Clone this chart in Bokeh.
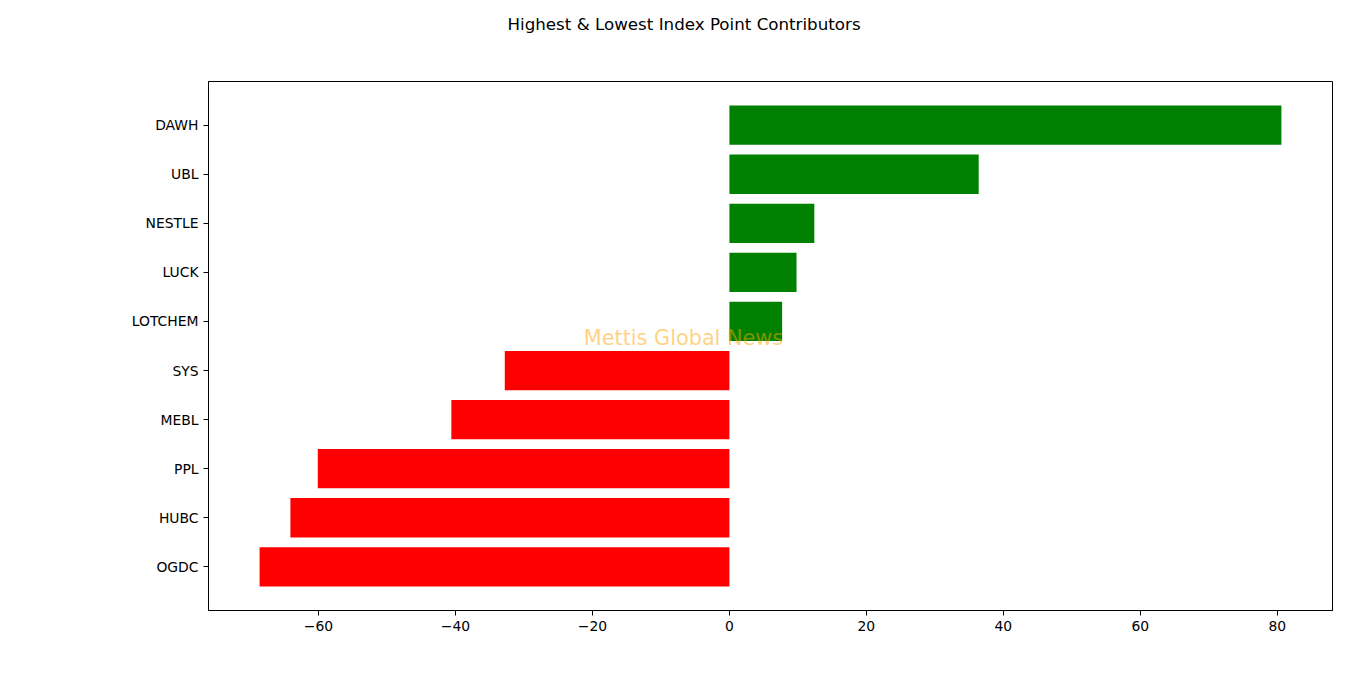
from bokeh.plotting import figure
from bokeh.models import FixedTicker, Label, ColumnDataSource, Title
from bokeh.embed import file_html
from bokeh.resources import INLINE

# Data (bottom to top)
names = ["OGDC", "HUBC", "PPL", "MEBL", "SYS", "LOTCHEM", "LUCK", "NESTLE", "UBL", "DAWH"]
values = [-68.6, -64.1, -60.1, -40.6, -32.8, 7.7, 9.8, 12.4, 36.4, 80.6]
x_ticks = [-60, -40, -20, 0, 20, 40, 60, 80]
title_text = "Highest & Lowest Index Point Contributors"
watermark_text = "Mettis Global News"

FONT = "DejaVu Sans"

idx = list(range(len(names)))
colors = ["#008000" if v >= 0 else "#ff0000" for v in values]
src = ColumnDataSource(dict(y=idx, right=values, color=colors, name=names))

vmin, vmax = min(min(values), 0), max(max(values), 0)
xpad = (vmax - vmin) * 0.05
ylo, yhi = -0.4, len(names) - 1 + 0.4
ypad = (yhi - ylo) * 0.05

p = figure(
    width=1358, height=667,
    frame_width=1124, frame_height=529,
    min_border_left=208, min_border_top=81, min_border_right=26, min_border_bottom=57,
    x_range=(vmin - xpad, vmax + xpad),
    y_range=(ylo - ypad, yhi + ypad),
    output_backend="svg", toolbar_location=None,
)
p.hbar(y="y", right="right", left=0, height=0.8, color="color", line_color=None, source=src)

p.xgrid.visible = False
p.ygrid.visible = False
p.outline_line_color = "black"
p.outline_line_width = 1
p.background_fill_color = "white"
p.border_fill_color = "white"

for ax in (p.xaxis[0], p.yaxis[0]):
    ax.axis_line_color = "black"
    ax.axis_line_width = 1
    ax.major_tick_in = 0
    ax.major_tick_out = 5
    ax.major_tick_line_color = "black"
    ax.major_tick_line_width = 1
    ax.minor_tick_line_color = None
    ax.major_label_text_font = FONT
    ax.major_label_text_font_size = "13.9px"
    ax.major_label_text_color = "black"
    ax.major_label_standoff = 5

p.xaxis[0].ticker = FixedTicker(ticks=x_ticks)
p.xaxis[0].major_label_overrides = {t: (("\u2212" + str(abs(t))) if t < 0 else str(t)) for t in x_ticks}
p.yaxis[0].ticker = FixedTicker(ticks=idx)
p.yaxis[0].major_label_overrides = {i: n for i, n in zip(idx, names)}

# Spacer panel between frame and title (nearest the frame)
p.add_layout(Title(text=" ", text_font_size="2px", standoff=33), "above")
# Title, placed so that it is centred on the whole figure
p.add_layout(Title(text=title_text, align="left", offset=299, standoff=22,
                   text_font=FONT, text_font_size="16.7px", text_font_style="normal",
                   text_color="black"), "above")

# Watermark
p.add_layout(Label(x=475, y=273, x_units="screen", y_units="screen", text=watermark_text,
                   text_align="center", text_baseline="middle", text_font=FONT,
                   text_font_size="20.8px", text_color="orange", text_alpha=0.5))

open("out.html", "w").write(file_html(p, INLINE))
